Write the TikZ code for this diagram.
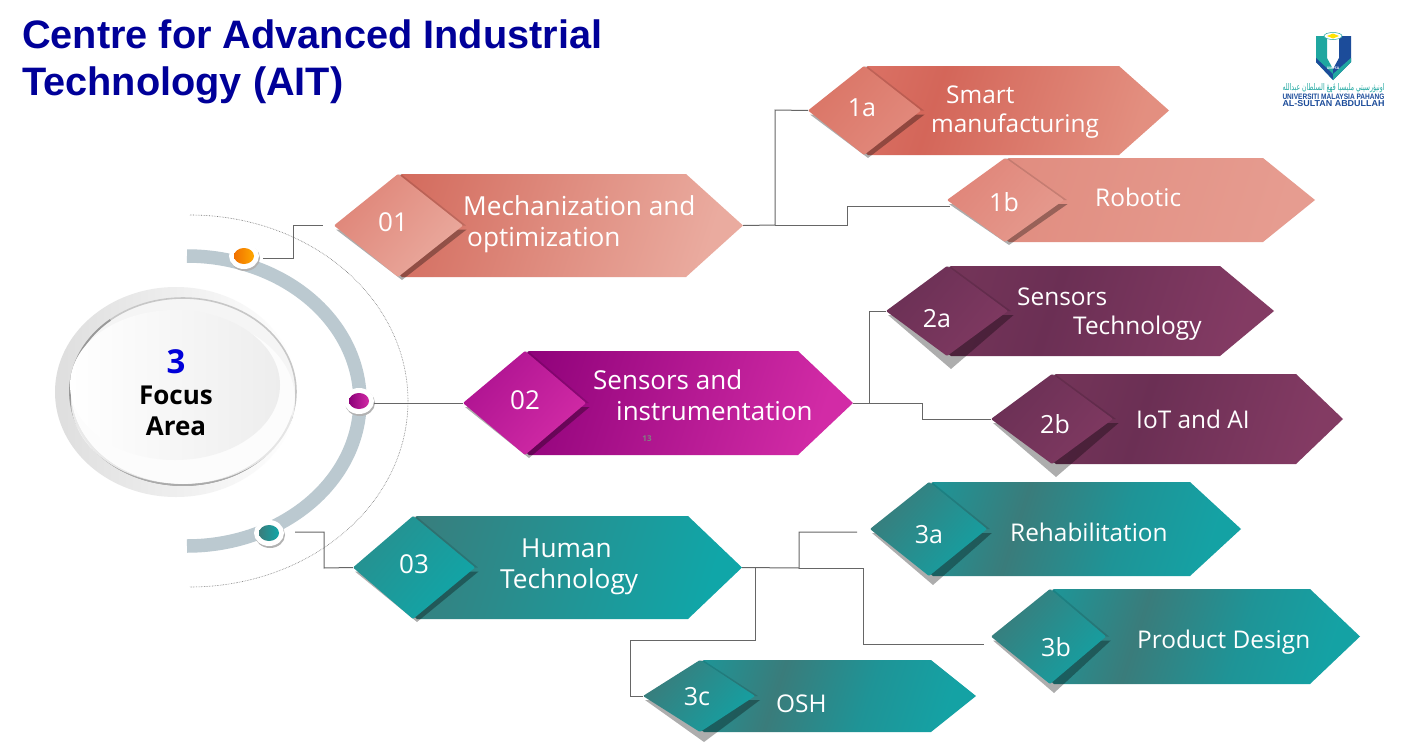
\documentclass[tikz,border=0pt]{standalone}
\usepackage{fontspec}
\usepackage{graphicx}
\setmainfont{Open Sans}
\newfontfamily\titlef{Liberation Sans}
\newfontfamily\arabicf[Script=Arabic]{DejaVu Sans}
\TeXXeTstate=1
\usetikzlibrary{shapes.geometric}
\definecolor{conn}{HTML}{666666}
\definecolor{ring}{HTML}{BBC9D0}
\definecolor{navy}{HTML}{000099}
\definecolor{umpteal}{HTML}{1FA7A0}
\definecolor{umpblue}{HTML}{1C4C9A}
\newcommand\fs[1]{\fontsize{#1}{#1}\selectfont}
\tikzset{
  x=1pt,y=-1pt,
  connector/.style={draw=conn,line width=1pt,line join=miter},
  label/.style={text=white,inner sep=0pt,font=\fs{24.4}},
  lw/.style={label,anchor=base west},
  lc/.style={label,anchor=base,font=\fs{25}},
  big/.style={font=\fs{26}},
}
\definecolor{a1}{HTML}{D2685A}\definecolor{a2}{HTML}{DF7F71}\definecolor{a3}{HTML}{EAAB9F}
\definecolor{b1}{HTML}{DF8578}\definecolor{b2}{HTML}{EAAA9E}
\definecolor{d1}{HTML}{DA7566}\definecolor{d2}{HTML}{E28A7D}
\definecolor{e1}{HTML}{E08C7F}\definecolor{e2}{HTML}{DE8578}\definecolor{e3}{HTML}{E69C90}
\definecolor{f1}{HTML}{E08579}\definecolor{f2}{HTML}{E59A8E}
\definecolor{h1}{HTML}{6B3055}\definecolor{h2}{HTML}{7F3961}
\definecolor{i1}{HTML}{8C0078}\definecolor{i2}{HTML}{AF1590}\definecolor{i3}{HTML}{D22BA6}
\definecolor{j1}{HTML}{AE1391}\definecolor{j2}{HTML}{D22BA6}
\definecolor{k1}{HTML}{3A7C7B}\definecolor{k2}{HTML}{1F9596}\definecolor{k3}{HTML}{10A6A8}
\definecolor{l1}{HTML}{27908F}\definecolor{l2}{HTML}{10A6A8}
\definecolor{n1}{HTML}{3A7C7B}\definecolor{n2}{HTML}{14A0A2}
\pgfdeclarehorizontalshading{bandB}{100bp}{color(0bp)=(rgb:red,220;green,120;blue,104);color(25bp)=(rgb:red,220;green,120;blue,104)}
\pgfdeclarehorizontalshading{shadeB}{100bp}{
  rgb(0bp)=(.86,.45,.40); rgb(25bp)=(.86,.45,.40); rgb(40bp)=(.83,.40,.35); rgb(75bp)=(.89,.56,.50); rgb(100bp)=(.89,.56,.50)}
\pgfdeclarehorizontalshading{shadeD}{100bp}{
  rgb(0bp)=(.46,.21,.35); rgb(25bp)=(.46,.21,.35); rgb(45bp)=(.42,.185,.33); rgb(75bp)=(.515,.23,.39); rgb(100bp)=(.515,.23,.39)}
\pgfdeclarehorizontalshading{shadeG}{100bp}{
  rgb(0bp)=(.10,.60,.61); rgb(25bp)=(.10,.60,.61); rgb(43bp)=(.227,.486,.482); rgb(60bp)=(.12,.58,.59); rgb(75bp)=(.08,.635,.645); rgb(100bp)=(.08,.635,.645)}
\tikzset{
  bodyA/.style={left color=a1,middle color=a2,right color=a3,shading angle=72},
  diaA/.style={left color=b1,right color=b2,shading angle=50},
  bodyB/.style={shade,shading=shadeB,shading angle=-18},
  diaB/.style={left color=d1,right color=d2,shading angle=50},
  bodyC/.style={left color=e1,middle color=e2,right color=e3,shading angle=72},
  diaC/.style={left color=f1,right color=f2,shading angle=50},
  bodyD/.style={shade,shading=shadeD,shading angle=-18},
  diaD/.style={left color=h1,right color=h2,shading angle=50},
  bodyE/.style={left color=i1,middle color=i2,right color=i3,shading angle=72},
  diaE/.style={left color=j1,right color=j2,shading angle=50},
  bodyF/.style={left color=k1,middle color=k2,right color=k3,shading angle=72},
  diaF/.style={left color=l1,right color=l2,shading angle=50},
  bodyG/.style={shade,shading=shadeG,shading angle=-18},
  diaG/.style={left color=n1,right color=n2,shading angle=50},
  dropshade/.style={fill=black,opacity=.32},
  edgeshade/.style={fill=black,opacity=.12},
}
% name, family, shadow drop, xleft, xtop of diamond, xtip of diamond, xshoulder, xright, "yt/yb"
\newcommand\hexa[9]{%
  \def\hxname{#1}\def\hxfam{#2}\def\hxdrop{#3}%
  \def\hxl{#4}\def\hxd{#5}\def\hxt{#6}\def\hxs{#7}\def\hxr{#8}%
  \hexaY#9\relax}
\def\hexaY#1/#2\relax{%
  \pgfmathsetmacro\hxm{(#1+#2)/2}%
  \pgfmathsetmacro\hxe{3+\hxdrop/5}%
  \path[body\hxfam] (\hxd+4,#1) -- (\hxs,#1) -- (\hxr,\hxm) -- (\hxs,#2) -- (\hxd+4,#2) -- (\hxl+8,\hxm) -- cycle;
  \fill[dropshade] (\hxl+2,\hxm+4) -- (\hxt+\hxe,\hxm+4) -- (\hxd+4,#2+\hxdrop) -- cycle;
  \fill[edgeshade] (\hxd+3,#1) -- (\hxt+3,\hxm) -- (\hxt,\hxm) -- (\hxd,#1) -- cycle;
  \path[dia\hxfam,rounded corners=1pt] (\hxl,\hxm) -- (\hxd,#1) -- (\hxt,\hxm) -- (\hxd,#2) -- cycle;
  \coordinate (\hxname-l) at (\hxl,\hxm);
  \coordinate (\hxname-r) at (\hxr,\hxm);
}
\begin{document}
\begin{tikzpicture}
\useasboundingbox (0,0) rectangle (1406,742);
\fill[white] (0,0) rectangle (1406,742);

% title
\node[anchor=base west,inner sep=0pt,text=navy,font=\titlef\bfseries\fs{39.7}] (title1) at (22,48) {Centre for Advanced Industrial};
\node[anchor=base west,inner sep=0pt,text=navy,font=\titlef\bfseries\fs{39.7}] (title2) at (22,95) {Technology (AIT)};

% logo
\fill[umpteal] (1316,36) -- (1327,36) -- (1327,58) -- (1333,69) -- (1333,80) -- (1316,62) -- cycle;
\fill[umpblue] (1339,36) -- (1351,36) -- (1351,62) -- (1333,80) -- (1333,69) -- (1339,58) -- cycle;
\fill[umpblue] (1316,58) -- (1333,74) -- (1333,80) -- (1316,62) -- cycle;
\fill[umpteal] (1351,58) -- (1333,74) -- (1333,80) -- (1351,62) -- cycle;
\draw[umpteal,line width=.5pt,fill=white] (1333,36) ellipse [x radius=9pt,y radius=3.5pt];
\fill[yellow!85!orange] (1327,36) -- (1333,33.5) -- (1339,36) -- (1333,38.5) -- cycle;
\node[inner sep=0pt,text=white,font=\bfseries\fs{3.5}] (umpsa) at (1333,68.5) {UMPSA};
\node[inner sep=0pt,text=umpteal] (logoar) at (1333.5,88) {\resizebox{102pt}{7pt}{\arabicf\fs{8}\beginR اونيۋرسيتي مليسيا ڤهڠ السلطان عبدالله\endR}};
\node[inner sep=0pt,text=umpblue] (logo1) at (1333.5,96.5) {\resizebox{102pt}{5.5pt}{\titlef\bfseries\fs{8}UNIVERSITI MALAYSIA PAHANG}};
\node[inner sep=0pt,text=umpblue] (logo2) at (1333.5,103.3) {\resizebox{102pt}{6pt}{\titlef\bfseries\fs{8}AL-SULTAN ABDULLAH}};

% centre disc
\path[left color=black!13,right color=white] (176,392) ellipse [x radius=121pt,y radius=105pt];
\draw[draw=black!22,line width=1.6pt,fill=black!4] (183,391.5) ellipse [x radius=113pt,y radius=93.5pt];
\draw[black!40,line width=1.8pt] plot[domain=130:345,samples=60,smooth] ({183+113*cos(\x)},{391.5+93.5*sin(-\x)});
\draw[black!33,line width=1.8pt] plot[domain=190:300,samples=40,smooth] ({183+113*cos(\x)},{391.5-93.5*sin(\x)});
\fill[white,opacity=.75] (183,400) ellipse [x radius=112pt,y radius=84pt];
\path[left color=white,right color=black!7] (175,385) ellipse [x radius=105pt,y radius=75pt];
\node[inner sep=0pt,anchor=base,text=blue!85!black,font=\bfseries\fs{33}] (n3) at (176,373) {3};
\node[inner sep=0pt,anchor=base,text=black,font=\bfseries\fs{26}] (focus) at (176,404) {Focus};
\node[inner sep=0pt,anchor=base,text=black,font=\bfseries\fs{26}] (area) at (176,435) {Area};

% arcs
\draw[black!55,line width=.6pt,densely dotted] plot[domain=-90:90,samples=120,smooth] ({190+218*cos(\x)},{401+186*sin(\x)});
\draw[ring,line width=13.5pt] plot[domain=-90:90,samples=120,smooth] ({187+173*cos(\x)},{401+145*sin(\x)});

% dots
\foreach \nm/\px/\py/\ca/\cb in {dot1/244/256/F07000/FFA800,dot2/359/401/8C0078/D22BA6,dot3/269/533/3A7C7B/10A6A8}{
  \definecolor{dca}{HTML}{\ca}\definecolor{dcb}{HTML}{\cb}
  \fill[black!30] (\px+1,\py+2) ellipse [x radius=15pt,y radius=13pt];
  \fill[white] (\px,\py) ellipse [x radius=15pt,y radius=13pt];
  \path[left color=dca,right color=dcb] (\px,\py) ellipse [x radius=10pt,y radius=8pt];
  \coordinate (\nm) at (\px,\py);
}

% hexagons
\hexa{h01}{A}{3}{334}{398}{463}{686}{743}{174/277}
\hexa{h1a}{B}{3}{808}{864}{921}{1119}{1169}{66/155}
\hexa{h1b}{C}{3}{947}{1005}{1064}{1263}{1315}{158/242}
\hexa{h02}{E}{3}{463}{525}{586}{798}{853}{351/455}
\hexa{h2a}{D}{13}{886}{947}{1008}{1220}{1274}{266/356}
\hexa{h2b}{D}{13}{991}{1052}{1113}{1296}{1343}{374/464}
\hexa{h03}{F}{3}{353}{413}{475}{688}{742}{516/619}
\hexa{h3a}{G}{9}{870}{929}{987}{1190}{1241}{482/576}
\hexa{h3b}{G}{9}{991}{1050}{1106}{1310}{1360}{589/684}
\hexa{h3c}{G}{10}{643}{700}{755}{931}{976}{660/732}

\node[inner sep=0pt,text=black!50,font=\bfseries\fs{8}] (num13) at (647,439) {13};

% labels
\node[lc,big] (t01) at (393,231) {01};
\node[lw,font=\fs{26.2}] (t01a) at (463,215) {Mechanization and};
\node[lw,font=\fs{26.2}] (t01b) at (467,246) {optimization};
\node[lc] (t1a) at (862,116) {1a};
\node[lw] (t1a1) at (946,103) {Smart};
\node[lw] (t1a2) at (931,132) {manufacturing};
\node[lc] (t1b) at (1004,211) {1b};
\node[lw] (t1b1) at (1095,206) {Robotic};
\node[lc,big] (t02) at (525,409) {02};
\node[lw,font=\fs{26}] (t02a) at (593,389) {Sensors and};
\node[lw,font=\fs{26}] (t02b) at (616,420) {instrumentation};
\node[lc] (t2a) at (937,327) {2a};
\node[lw] (t2a1) at (1017,305) {Sensors};
\node[lw] (t2a2) at (1073,334) {Technology};
\node[lc] (t2b) at (1055,433) {2b};
\node[lw] (t2b1) at (1136,428) {IoT and AI};
\node[lc,big] (t03) at (414,573) {03};
\node[lw,font=\fs{26.2}] (t03a) at (521,557) {Human};
\node[lw,font=\fs{26.2}] (t03b) at (500,588) {Technology};
\node[lc] (t3a) at (929,543) {3a};
\node[lw] (t3a1) at (1010,541) {Rehabilitation};
\node[lc] (t3b) at (1056,656) {3b};
\node[lw] (t3b1) at (1137,648) {Product Design};
\node[lc] (t3c) at (697,705) {3c};
\node[lw] (t3c1) at (776,712) {OSH};

% connector free ends
\coordinate (s1) at (263,258);
\coordinate (e1) at (323,225);
\coordinate (s2) at (374,403);
\coordinate (s3) at (295,532);
\coordinate (e1b) at (950,206);
\coordinate (e3a) at (857,532);
\coordinate (e3b) at (984,644);

\draw[connector] (s1) -- (293,258) -- (293,225) -- (e1);
\draw[connector] (s2) -- (h02-l);
\draw[connector] (s3) -- (324,532) -- (324,568) -- (h03-l);
\draw[connector] (h01-r) -- (775,225) -- (775,110) -- (h1a-l);
\draw[connector] (775,225) -- (847,225) -- (847,206) -- (e1b);
\draw[connector] (h02-r) -- (869,403) -- (869,311) -- (h2a-l);
\draw[connector] (869,403) -- (922,403) -- (922,419) -- (h2b-l);
\draw[connector] (h03-r) -- (799,568) -- (799,532) -- (e3a);
\draw[connector] (799,568) -- (863,568) -- (863,644) -- (e3b);
\draw[connector] (755,568) -- (755,640) -- (630,640) -- (630,696) -- (h3c-l);
\end{tikzpicture}
\end{document}
